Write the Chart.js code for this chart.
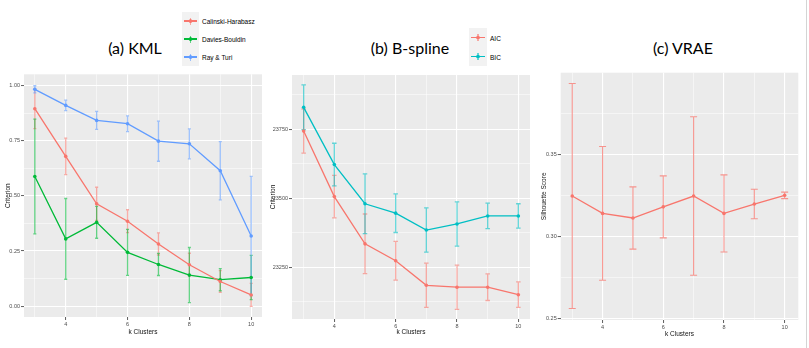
<!DOCTYPE html>
<html><head><meta charset="utf-8">
<script src="https://cdn.jsdelivr.net/npm/chart.js@4.4.1/dist/chart.umd.min.js"></script>
<style>
body{margin:0;width:809px;height:348px;background:#fff;position:relative;overflow:hidden;font-family:"Liberation Sans",Arial,sans-serif;}
canvas{position:absolute;}
.title{position:absolute;font-family:Lato,"Open Sans",sans-serif;font-size:16px;color:#000;white-space:nowrap;transform:translate(-50%,-50%);}
.keycol{position:absolute;background:#F2F2F2;}
.lab{position:absolute;font-size:6.5px;color:#000;white-space:nowrap;transform:translateY(-50%);}
.seg{position:absolute;}
</style></head>
<body>
<canvas id="ca" width="266" height="278" style="left:0;top:70px"></canvas>
<canvas id="cb" width="268" height="278" style="left:266px;top:70px"></canvas>
<canvas id="cc" width="275" height="288" style="left:534px;top:60px"></canvas>
<div class="title" style="left:135px;top:47px">(a) KML</div>
<div class="title" style="left:410px;top:47px">(b) B-spline</div>
<div class="title" style="left:683px;top:47px">(c) VRAE</div>
<div style="position:absolute;left:806px;top:0;width:1px;height:348px;background:#d4d4d4"></div>
<div id="legA"></div>
<div id="legB"></div>
<script>
// ---------- data ----------
const kClusters = [3, 4, 5, 6, 7, 8, 9, 10];
const xMajorTicks = [4, 6, 8, 10];
const xMajorLabels = ['4', '6', '8', '10'];
const xMinorTicks = [3, 5, 7, 9];

// (a) KML
const kmlNames = ['Calinski-Harabasz', 'Davies-Bouldin', 'Ray & Turi'];
const chMean = [0.895, 0.679, 0.464, 0.385, 0.282, 0.188, 0.112, 0.051];
const chErr  = [0.090, 0.083, 0.075, 0.052, 0.050, 0.052, 0.049, 0.052];
const dbMean = [0.588, 0.305, 0.380, 0.244, 0.189, 0.141, 0.120, 0.130];
const dbErr  = [0.260, 0.183, 0.072, 0.104, 0.050, 0.125, 0.050, 0.100];
const rtMean = [0.983, 0.910, 0.842, 0.827, 0.748, 0.736, 0.614, 0.318];
const rtErr  = [0.016, 0.024, 0.041, 0.036, 0.091, 0.068, 0.132, 0.270];
const kmlYMajor = [0, 0.25, 0.5, 0.75, 1.0];
const kmlYLabels = ['0.00', '0.25', '0.50', '0.75', '1.00'];
const kmlYMinor = [0.125, 0.375, 0.625, 0.875];

// (b) B-spline
const bsNames = ['AIC', 'BIC'];
const aicMean = [23743, 23506, 23335, 23274, 23185, 23178, 23178, 23151];
const aicErr  = [80, 77, 108, 70, 80, 80, 48, 46];
const bicMean = [23829, 23622, 23480, 23446, 23385, 23407, 23436, 23436];
const bicErr  = [81, 77, 108, 70, 80, 80, 46, 44];
const bsYMajor = [23250, 23500, 23750];
const bsYLabels = ['23250', '23500', '23750'];
const bsYMinor = [23125, 23375, 23625, 23875];

// (c) VRAE
const vraeMean = [0.3246, 0.3140, 0.3112, 0.3180, 0.3246, 0.3140, 0.3197, 0.3250];
const vraeErr  = [0.0686, 0.0408, 0.0190, 0.0189, 0.0483, 0.0235, 0.0090, 0.0020];
const vraeYMajor = [0.25, 0.30, 0.35];
const vraeYLabels = ['0.25', '0.30', '0.35'];
const vraeYMinor = [0.275, 0.325, 0.375];

// ---------- colours ----------
const RED = '#F8766D', GREEN = '#00BA38', BLUE = '#619CFF', TEAL = '#00BFC4';
function rgba(hex, a){const n=parseInt(hex.slice(1),16);return `rgba(${n>>16},${(n>>8)&255},${n&255},${a})`;}

// ---------- plugins ----------
const panelBg = { id:'panelBg', beforeDraw(chart){ const {ctx, chartArea:a} = chart; ctx.save(); ctx.fillStyle='#EBEBEB'; ctx.fillRect(a.left,a.top,a.right-a.left,a.bottom-a.top); ctx.restore(); } };
const errorBars = { id:'errorBars', beforeDatasetsDraw(chart){
  const {ctx, scales:{x, y}} = chart;
  chart.data.datasets.forEach(ds => {
    if (!ds.err) return;
    ctx.save(); ctx.strokeStyle = ds.errColor; ctx.lineWidth = ds.errWidth;
    ds.data.forEach((p, j) => {
      const px = x.getPixelForValue(p.x);
      const y1 = y.getPixelForValue(p.y - ds.err[j]);
      const y2 = y.getPixelForValue(p.y + ds.err[j]);
      const c = ds.capWidth / 2;
      ctx.beginPath();
      ctx.moveTo(px, y1); ctx.lineTo(px, y2);
      ctx.moveTo(px - c, y1); ctx.lineTo(px + c, y1);
      ctx.moveTo(px - c, y2); ctx.lineTo(px + c, y2);
      ctx.stroke();
    });
    ctx.restore();
  });
}};

function makeScale({min, max, majors, minors, labels, title, isX, size, titlePad, titleSize}){
  const all = majors.concat(minors).sort((a,b)=>a-b);
  const idx = v => majors.findIndex(m => Math.abs(m - v) < 1e-9);
  return {
    type:'linear', min, max,
    afterBuildTicks: s => { s.ticks = all.map(v => ({value:v})); },
    afterFit: s => { if (isX) s.height = size; else s.width = size; },
    ticks:{autoSkip:false, maxRotation:0, minRotation:0, padding:1, color:'#4D4D4D', font:{size:5.5},
      callback: v => { const i = idx(v); return i >= 0 ? labels[i] : ''; }},
    grid:{color:'#FFFFFF', lineWidth: c => idx(c.tick.value) >= 0 ? 1.1 : 0.5,
      tickColor: c => idx(c.tick.value) >= 0 ? '#333333' : 'rgba(0,0,0,0)', tickLength:3, tickWidth:0.8},
    border:{display:false},
    title:{display:true, text:title, color:'#111', font:{size:titleSize||6.5},
      padding: isX ? {top:0, bottom:titlePad} : {top:titlePad, bottom:0}}
  };
}

function series(mean, err, color, opt){
  return Object.assign({
    data: kClusters.map((k, i) => ({x:k, y:mean[i]})),
    err: err, errColor: rgba(color, 0.6), errWidth: 1.3, capWidth: 3,
    borderColor: color, backgroundColor: color, borderWidth: 1.3,
    pointRadius: 1.8, pointBorderWidth: 0, pointBackgroundColor: color, tension: 0, showLine: true
  }, opt || {});
}

function makeChart(id, datasets, xs, ys, padding){
  new Chart(document.getElementById(id), {
    type:'line',
    data:{datasets},
    options:{responsive:false, animation:false, devicePixelRatio:1, events:[],
      layout:{padding},
      plugins:{legend:{display:false}, tooltip:{enabled:false}},
      scales:{x:xs, y:ys}},
    plugins:[panelBg, errorBars]
  });
}
Chart.defaults.font.family = '"Liberation Sans", Arial, sans-serif';

// (a)
makeChart('ca', [
  series(chMean, chErr, RED),
  series(dbMean, dbErr, GREEN),
  series(rtMean, rtErr, BLUE)
], makeScale({min:2.65, max:10.35, majors:xMajorTicks, minors:xMinorTicks, labels:xMajorLabels, title:'k Clusters', isX:true, size:31, titlePad:12}),
   makeScale({min:-0.049, max:1.051, majors:kmlYMajor, minors:kmlYMinor, labels:kmlYLabels, title:'Criterion', isX:false, size:24, titlePad:4.2}),
   {top:4, right:4, left:0, bottom:0});

// (b)
makeChart('cb', [
  series(aicMean, aicErr, RED, {capWidth:4.5}),
  series(bicMean, bicErr, TEAL, {capWidth:4.5})
], makeScale({min:2.62, max:10.38, majors:xMajorTicks, minors:xMinorTicks, labels:xMajorLabels, title:'k Clusters', isX:true, size:29, titlePad:11.5}),
   makeScale({min:23063, max:23946, majors:bsYMajor, minors:bsYMinor, labels:bsYLabels, title:'Criterion', isX:false, size:26, titlePad:2.9}),
   {top:5, right:3, left:0, bottom:0});

// (c)
makeChart('cc', [
  series(vraeMean, vraeErr, RED, {capWidth:7, errWidth:1.1, errColor:rgba(RED,0.75)})
], makeScale({min:2.62, max:10.45, majors:xMajorTicks, minors:xMinorTicks, labels:xMajorLabels, title:'k Clusters', isX:true, size:28, titlePad:10}),
   makeScale({min:0.249, max:0.3998, majors:vraeYMajor, minors:vraeYMinor, labels:vraeYLabels, title:'Silhouette Score', isX:false, size:26.7, titlePad:6.3, titleSize:6.5}),
   {top:12.7, right:10.7, left:0, bottom:0});

// ---------- legends ----------
function legend(el, names, colors, x, y0, step, w){
  const root = document.getElementById(el);
  const h = step * names.length;
  const col = document.createElement('div');
  col.className = 'keycol';
  Object.assign(col.style, {left:x+'px', top:(y0 - step/2)+'px', width:w+'px', height:h+'px'});
  root.appendChild(col);
  names.forEach((n, i) => {
    const cy = y0 + i * step, cx = x + w/2, c = colors[i];
    const hl = document.createElement('div'); hl.className='seg';
    Object.assign(hl.style, {left:(x+2)+'px', top:(cy-0.6)+'px', width:(w-4)+'px', height:'1.2px', background:c});
    const vl = document.createElement('div'); vl.className='seg';
    Object.assign(vl.style, {left:(cx-0.6)+'px', top:(cy-3.5)+'px', width:'1.2px', height:'7px', background:rgba(c,0.6)});
    const dot = document.createElement('div'); dot.className='seg';
    Object.assign(dot.style, {left:(cx-1.8)+'px', top:(cy-1.8)+'px', width:'3.6px', height:'3.6px', borderRadius:'50%', background:c});
    const lab = document.createElement('div'); lab.className='lab'; lab.textContent = n;
    Object.assign(lab.style, {left:(x+w+3)+'px', top:cy+'px'});
    root.append(hl, vl, dot, lab);
  });
}
legend('legA', kmlNames, [RED, GREEN, BLUE], 182, 21, 18, 17);
legend('legB', bsNames, [RED, TEAL], 469, 37.5, 19, 18);
</script>
</body></html>
